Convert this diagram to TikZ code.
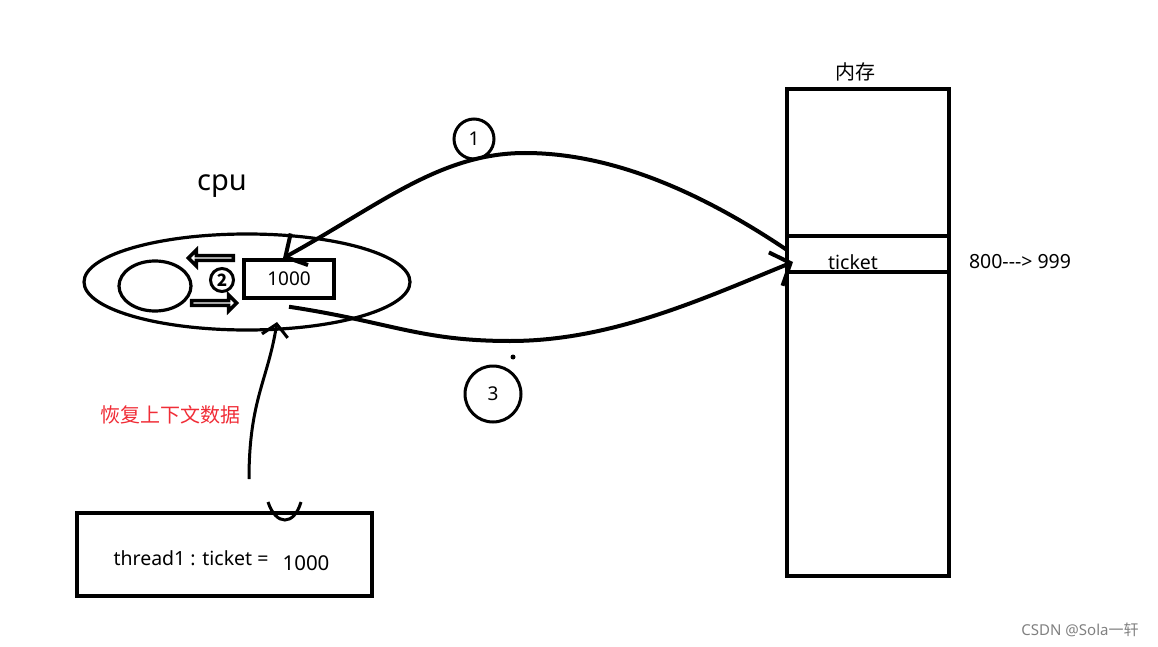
\documentclass[tikz,border=0pt]{standalone}
\usepackage{fontspec}
\setmainfont{Noto Sans}
\newfontfamily\cjk{Noto Sans CJK SC}
\usepackage{xcolor}
\usepackage{tikz}
\usetikzlibrary{positioning}
\usetikzlibrary{shapes.geometric}
\usetikzlibrary{shapes.arrows}
\usetikzlibrary{arrows.meta}
\newcommand{\fsz}[1]{\fontsize{#1}{#1}\selectfont}
\definecolor{hintred}{RGB}{240,45,55}

\begin{document}
\begin{tikzpicture}[x=1pt, y=-1pt]
% Styles:
\tikzset{cell/.style={draw, line width=4pt, minimum width=162pt, inner sep=0pt, outer sep=0pt}}
\tikzset{frame/.style={draw, line width=3.5pt, inner sep=0pt}}
\tikzset{oval/.style={draw, ellipse, line width=3.2pt, inner sep=0pt}}
\tikzset{numcircle/.style={draw, circle, line width=3pt, inner sep=0pt}}
\tikzset{movearrow/.style={draw, single arrow, line width=3.5pt, minimum height=45pt, minimum width=16pt, single arrow head extend=4pt, inner sep=0pt}}
\tikzset{flow/.style={line width=4pt, -{Straight Barb[length=16pt, width=36pt]}}}

\useasboundingbox (0,0) rectangle (1158,647);

% Memory:
\node[cell, minimum height=36pt] (ticket) at (868,254) {};
\node[cell, minimum height=147pt] (memtop) [above = 0pt of ticket] {};
\node[cell, minimum height=304pt] (membot) [below = 0pt of ticket] {};
\node[] (memlabel) at (855,72) {\cjk\fsz{20}内存};
\node[] (tickettxt) at (853,262) {\fsz{19.5}ticket};
\node[] (change) at (1020,262) {\fsz{19.5}800{-}{-}{-}> 999};

% CPU:
\node[oval, minimum width=326pt, minimum height=96pt] (cpu) at (247,282) {};
\node[] (cpulabel) at (222,186) {\fsz{29}cpu};
\node[oval, minimum width=72pt, minimum height=50pt] (reg) at (155,286) {};
\node[numcircle, minimum size=23pt] (two) at (222,280) {\cjk\bfseries\fsz{17}2};
\node[frame, minimum width=90pt, minimum height=38pt] (val) at (289,279) {\fsz{19}1000};
\node[movearrow, shape border rotate=180] (save) at (212,258) {};
\node[movearrow] (load) at (213,303) {};

% Steps:
\node[numcircle, minimum size=40pt] (one) at (474,139) {\fsz{19}1};
\node[numcircle, minimum size=56pt] (three) at (493,394) {\fsz{19}\raisebox{-6pt}{3}};
\fill (513,357) circle (2.5);

\draw[flow] ([yshift=4pt]ticket.west) .. controls (720,205) and (625,153) .. (525,153)
  .. controls (440,153) and (380,205) .. ([xshift=-6pt]val.north);
\draw[flow] ([yshift=-7pt]val.south) .. controls (390,322) and (420,341) .. (510,341)
  .. controls (610,341) and (700,300) .. ([xshift=6pt, yshift=-8pt]ticket.west);

% Thread:
\node[frame, minimum width=295pt, minimum height=83pt] (thread) at (224.5,554.5) {};
\node[] (threadtxt) at (191,558) {\fsz{19.5}thread1 : ticket =};
\node[] (threadval) at (306,563) {\fsz{20.5}1000};
\node[text=hintred] (restore) at (170,415) {\cjk\fsz{20}恢复上下文数据};
\coordinate (restorefrom) at (249,479);
\coordinate (restoreto) at (277,322);
\draw[line width=3pt, -{Straight Barb[length=12pt, width=26pt]}] (restorefrom) .. controls (249,400) and (268,380) .. (restoreto);
\draw[line width=3pt] (268,502) .. controls (276,526) and (294,526) .. (301,502);

\node[text=gray] (csdn) at (1080,630) {\fsz{15}CSDN @Sola{\cjk 一轩}};
\end{tikzpicture}
\end{document}
